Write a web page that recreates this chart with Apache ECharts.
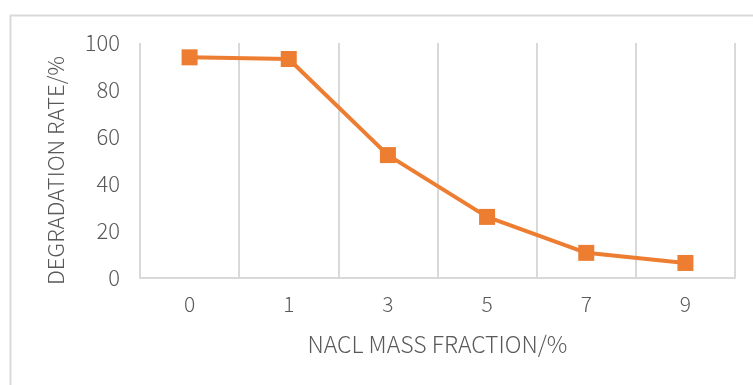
<!DOCTYPE html>
<html>
<head>
<meta charset="utf-8">
<script src="https://cdn.jsdelivr.net/npm/echarts@6/dist/echarts.min.js"></script>
<style>
  html, body { margin: 0; padding: 0; background: #fff; }
  #chart { width: 753px; height: 385px; }
</style>
</head>
<body>
<div id="chart"></div>
<script>
// NaCl mass fraction (%) and the resulting degradation rate (%)
const categories = ['0', '1', '3', '5', '7', '9'];
const degradationRate = [93.9, 93.2, 52.3, 26.0, 10.7, 6.4];
const yTicks = [0, 20, 40, 60, 80, 100];

const textColor = '#595959';
const lineColor = '#d9d9d9';
const fontFamily = '"Noto Sans CJK SC", "Noto Sans", sans-serif';

const chart = echarts.init(document.getElementById('chart'), null, { renderer: 'canvas' });

chart.setOption({
  backgroundColor: '#ffffff',
  animation: false,
  textStyle: { fontFamily: fontFamily, fontWeight: 300 },
  graphic: [{
    type: 'rect',
    left: 8,
    top: 13,
    shape: { width: 760, height: 390 },
    style: { fill: 'none', stroke: lineColor, lineWidth: 2 },
    silent: true,
    z: -1
  }],
  grid: { left: 140, right: 18, top: 43, bottom: 107, containLabel: false },
  xAxis: {
    type: 'category',
    data: categories,
    boundaryGap: true,
    name: 'NACL MASS FRACTION/%',
    nameLocation: 'middle',
    nameGap: 55,
    nameTextStyle: { color: textColor, fontSize: 23, fontFamily: fontFamily, fontWeight: 300 },
    axisLine: { show: true, lineStyle: { color: lineColor, width: 2 } },
    axisTick: { show: false },
    axisLabel: { color: textColor, fontSize: 21, margin: 16, fontFamily: fontFamily, fontWeight: 300 },
    splitLine: { show: true, lineStyle: { color: lineColor, width: 2 } }
  },
  yAxis: {
    type: 'value',
    min: yTicks[0],
    max: yTicks[yTicks.length - 1],
    interval: yTicks[1] - yTicks[0],
    name: 'DEGRADATION RATE/%',
    nameLocation: 'middle',
    nameRotate: 90,
    nameGap: 73,
    nameTextStyle: { color: textColor, fontSize: 22, fontFamily: fontFamily, fontWeight: 300, padding: [0, 20, 0, 0] },
    axisLine: { show: false },
    axisTick: { show: false },
    axisLabel: { color: textColor, fontSize: 22, margin: 20, fontFamily: fontFamily, fontWeight: 300 },
    splitLine: { show: false }
  },
  series: [{
    type: 'line',
    data: degradationRate,
    symbol: 'rect',
    symbolSize: 16,
    itemStyle: { color: '#ED7D31' },
    lineStyle: { color: '#ED7D31', width: 4 }
  }]
});
</script>
</body>
</html>
